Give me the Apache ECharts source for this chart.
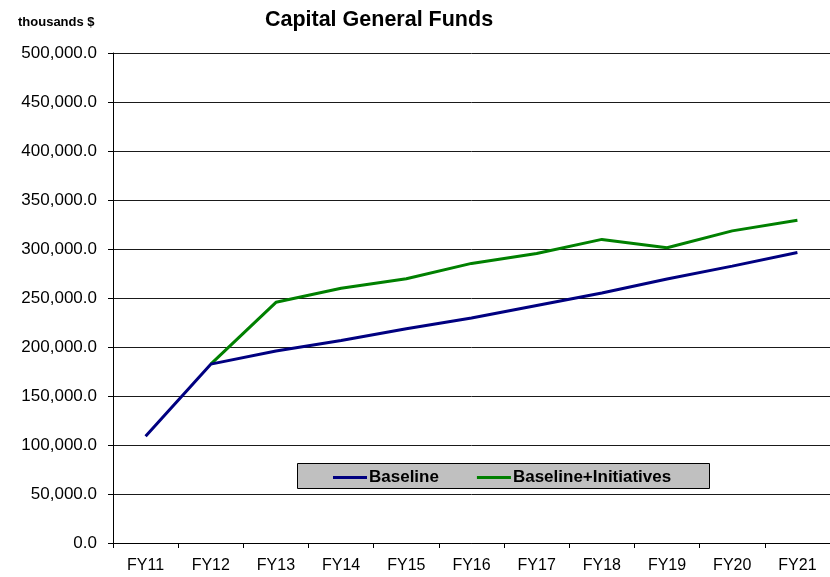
<!DOCTYPE html>
<html>
<head>
<meta charset="utf-8">
<script src="https://cdn.jsdelivr.net/npm/echarts@6/dist/echarts.min.js"></script>
<style>
html,body{margin:0;padding:0;background:#fff;}
#chart{width:830px;height:577px;}
</style>
</head>
<body>
<div id="chart"></div>
<script>
var categories = ['FY11','FY12','FY13','FY14','FY15','FY16','FY17','FY18','FY19','FY20','FY21'];
var baseline = [109000, 182500, 196000, 206600, 218700, 229500, 242400, 255100, 269300, 282500, 296500];
var initiatives = [null, 182500, 245600, 259900, 269700, 285300, 295500, 309800, 301200, 318500, 329400];
var yTicks = [0, 50000, 100000, 150000, 200000, 250000, 300000, 350000, 400000, 450000, 500000];

var chart = echarts.init(document.getElementById('chart'), null, {renderer: 'canvas'});
var font = 'Arial, "Liberation Sans", sans-serif';
chart.setOption({
  animation: false,
  backgroundColor: '#fff',
  textStyle: {fontFamily: font},
  title: [{
    text: 'Capital General Funds',
    left: 374, top: 4, textAlign: 'center',
    textStyle: {fontFamily: font, fontSize: 21.5, fontWeight: 'bold', color: '#000'}
  }, {
    text: 'thousands $',
    left: 13, top: 11,
    textStyle: {fontFamily: font, fontSize: 13, fontWeight: 'bold', color: '#000'}
  }],
  graphic: [{
    type: 'rect',
    shape: {x: 297.5, y: 463.5, width: 412, height: 25},
    style: {fill: '#c0c0c0', stroke: '#000', lineWidth: 1},
    z: 5
  }],
  legend: {
    left: 333, top: 469, padding: 0,
    itemWidth: 34, itemHeight: 3, itemGap: 38,
    icon: 'rect',
    z: 10,
    textStyle: {fontFamily: font, fontSize: 17, fontWeight: 'bold', color: '#000', padding: [0,0,0,-3]},
    data: ['Baseline', 'Baseline+Initiatives']
  },
  grid: {left: 113, top: 53, width: 719, height: 490, containLabel: false},
  xAxis: {
    type: 'category',
    data: categories,
    boundaryGap: true,
    axisLine: {lineStyle: {color: '#000', width: 1}},
    axisTick: {show: true, alignWithLabel: false, length: 5, lineStyle: {color: '#000'}},
    axisLabel: {color: '#000', fontSize: 16, fontFamily: font, margin: 15},
    splitLine: {show: false}
  },
  yAxis: {
    type: 'value',
    min: 0, max: 500000, interval: 50000,
    axisLine: {show: true, lineStyle: {color: '#000', width: 1}},
    axisTick: {show: true, length: 5, lineStyle: {color: '#000'}},
    axisLabel: {
      color: '#000', fontSize: 17, fontFamily: font, margin: 16,
      formatter: function (v) {
        return v.toLocaleString('en-US', {minimumFractionDigits: 1, maximumFractionDigits: 1});
      }
    },
    splitLine: {show: true, lineStyle: {color: '#1a1a1a', width: 1}}
  },
  series: [{
    name: 'Baseline',
    type: 'line',
    data: baseline,
    showSymbol: false,
    symbol: 'none',
    z: 4,
    lineStyle: {color: '#000080', width: 3},
    itemStyle: {color: '#000080'}
  }, {
    name: 'Baseline+Initiatives',
    type: 'line',
    data: initiatives,
    showSymbol: false,
    symbol: 'none',
    z: 3,
    lineStyle: {color: '#008000', width: 3},
    itemStyle: {color: '#008000'}
  }]
});
</script>
</body>
</html>
